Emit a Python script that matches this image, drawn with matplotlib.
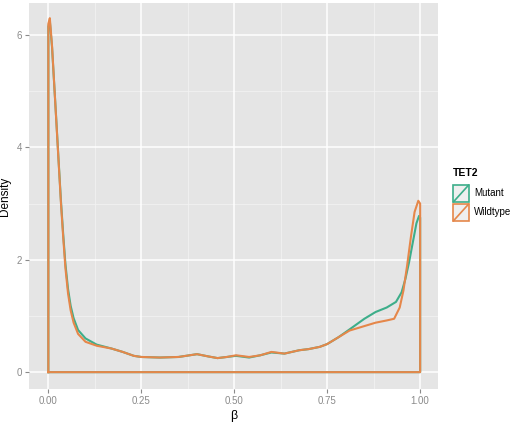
import matplotlib
matplotlib.use("Agg")
import matplotlib.pyplot as plt
from matplotlib.patches import Rectangle

plt.rcParams['font.family'] = ['Liberation Sans', 'DejaVu Sans']

# ---- data ----
beta_wt = [0.000, 0.004, 0.010, 0.016, 0.022, 0.028, 0.034, 0.040, 0.046, 0.053,
           0.060, 0.068, 0.080, 0.100, 0.130, 0.170, 0.200, 0.230, 0.250, 0.300,
           0.350, 0.380, 0.400, 0.430, 0.455, 0.480, 0.505, 0.540, 0.570, 0.600,
           0.635, 0.675, 0.700, 0.730, 0.750, 0.780, 0.810, 0.850, 0.880, 0.910,
           0.930, 0.945, 0.955, 0.965, 0.975, 0.985, 0.995, 1.000]
dens_wt = [6.20, 6.30, 5.80, 5.10, 4.40, 3.70, 3.00, 2.40, 1.85, 1.40,
           1.10, 0.88, 0.68, 0.54, 0.47, 0.42, 0.36, 0.29, 0.27, 0.26,
           0.27, 0.30, 0.32, 0.28, 0.25, 0.27, 0.30, 0.27, 0.30, 0.36,
           0.33, 0.39, 0.41, 0.45, 0.50, 0.62, 0.74, 0.82, 0.88, 0.92,
           0.95, 1.15, 1.45, 1.90, 2.40, 2.85, 3.05, 3.00]

beta_mut = [0.000, 0.004, 0.010, 0.016, 0.022, 0.028, 0.034, 0.040, 0.046, 0.053,
            0.060, 0.068, 0.080, 0.100, 0.130, 0.170, 0.200, 0.230, 0.250, 0.300,
            0.350, 0.380, 0.400, 0.430, 0.455, 0.480, 0.505, 0.540, 0.570, 0.600,
            0.635, 0.675, 0.700, 0.730, 0.750, 0.780, 0.810, 0.850, 0.880, 0.910,
            0.935, 0.950, 0.960, 0.970, 0.980, 0.990, 0.997, 1.000]
dens_mut = [6.15, 6.25, 5.78, 5.10, 4.42, 3.72, 3.04, 2.45, 1.92, 1.48,
            1.18, 0.96, 0.75, 0.60, 0.49, 0.42, 0.36, 0.29, 0.27, 0.26,
            0.27, 0.30, 0.32, 0.28, 0.25, 0.27, 0.29, 0.26, 0.30, 0.35,
            0.33, 0.39, 0.41, 0.45, 0.50, 0.62, 0.76, 0.95, 1.07, 1.15,
            1.25, 1.42, 1.65, 1.95, 2.30, 2.65, 2.78, 2.75]

groups = ["Mutant", "Wildtype"]
series = {"Mutant": (beta_mut, dens_mut), "Wildtype": (beta_wt, dens_wt)}
colors = {"Mutant": "#3DAE8A", "Wildtype": "#E5874A"}
legend_title = "TET2"
x_ticks = [0.0, 0.25, 0.5, 0.75, 1.0]
x_tick_labels = ["0.00", "0.25", "0.50", "0.75", "1.00"]
y_ticks = [0, 2, 4, 6]
y_tick_labels = ["0", "2", "4", "6"]

W, H = 520, 425
fig = plt.figure(figsize=(W / 100, H / 100), dpi=100)
ax = fig.add_axes([29 / W, 36 / H, 409 / W, 386 / H])
ax.set_facecolor("#E5E5E5")
for s in ax.spines.values():
    s.set_visible(False)
ax.set_xlim(-0.052, 1.048)
ax.set_ylim(-0.30, 6.57)

# grid
for v in [0.125, 0.375, 0.625, 0.875]:
    ax.axvline(v, color="#F2F2F2", lw=0.6, zorder=0)
for v in [1, 3, 5]:
    ax.axhline(v, color="#F2F2F2", lw=0.6, zorder=0)
for v in x_ticks:
    ax.axvline(v, color="white", lw=1.1, zorder=0)
for v in y_ticks:
    ax.axhline(v, color="white", lw=1.1, zorder=0)

for g in groups:
    bx, dy = series[g]
    xs = [bx[0]] + list(bx) + [bx[-1], bx[0]]
    ys = [0] + list(dy) + [0, 0]
    ax.plot(xs, ys, color=colors[g], lw=1.5, solid_joinstyle="round", zorder=3)

ax.set_xticks(x_ticks)
ax.set_xticklabels(x_tick_labels)
ax.set_yticks(y_ticks)
ax.set_yticklabels(y_tick_labels)
ax.tick_params(length=3, width=0.8, color="#8A8A8A", labelsize=7,
               labelcolor="#8A8A8A", pad=2)
ax.set_xlabel("β", fontsize=9, labelpad=3)
ax.set_ylabel("Density", fontsize=8.5, labelpad=4)

# legend
fig.text(453 / W, 1 - 173 / H, legend_title, fontsize=7.5, fontweight="bold",
         va="center", ha="left")
lax = fig.add_axes([452 / W, (H - 222) / H, 18 / W, 38 / H])
lax.set_xlim(0, 1)
lax.set_ylim(0, 2)
lax.axis("off")
for i, g in enumerate(groups):
    y0 = 1 - i
    lax.add_patch(Rectangle((0.08, y0 + 0.06), 0.84, 0.88, facecolor="#EFEFEF",
                            edgecolor=colors[g], lw=1.2))
    lax.plot([0.08, 0.92], [y0 + 0.06, y0 + 0.94], color=colors[g], lw=1.2)
    fig.text(474 / W, 1 - (193 + 19 * i) / H, g, fontsize=7, va="center", ha="left")

fig.savefig("out.png", dpi=100)
